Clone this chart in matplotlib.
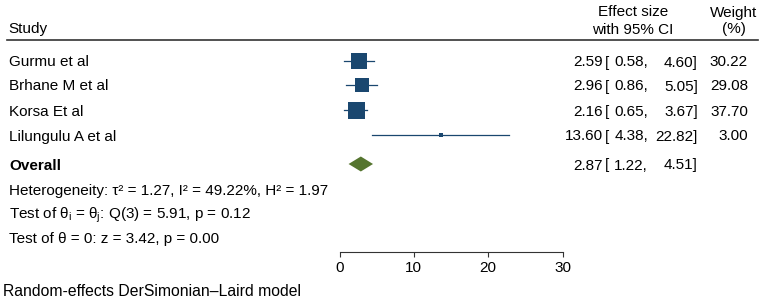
import matplotlib
matplotlib.use("Agg")
import matplotlib.pyplot as plt
from matplotlib.lines import Line2D
import numpy as np

plt.rcParams['font.family'] = ['Liberation Sans', 'DejaVu Sans']
plt.rcParams['mathtext.fontset'] = 'custom'
plt.rcParams['mathtext.rm'] = 'Liberation Sans'
plt.rcParams['mathtext.it'] = 'Liberation Sans'
plt.rcParams['mathtext.bf'] = 'Liberation Sans:bold'

studies = ["Gurmu et al", "Brhane M et al", "Korsa Et al", "Lilungulu A et al"]
effects = [2.59, 2.96, 2.16, 13.60]
lower = [0.58, 0.86, 0.65, 4.38]
upper = [4.60, 5.05, 3.67, 22.82]
weights = [30.22, 29.08, 37.70, 3.00]
overall = [2.87, 1.22, 4.51]
xticks = [0, 10, 20, 30]
het_text = "Heterogeneity: \u03c4\u00b2 = 1.27, I\u00b2 = 49.22%, H\u00b2 = 1.97"
test1_text = r"Test of $\theta_\mathrm{i}$ = $\theta_\mathrm{j}$: Q(3) = 5.91, p = 0.12"
test2_text = "Test of \u03b8 = 0: z = 3.42, p = 0.00"
footnote = "Random-effects DerSimonian\u2013Laird model"

W, H = 765, 299
fig = plt.figure(figsize=(W / 100, H / 100), dpi=100)
fig.patch.set_facecolor('white')

def fx(x):
    return x / W

def fy(y):
    return 1 - y / H

fs = 11
boff = 5.5  # baseline offset from visual row centre (px)

def txt(x, y, s, ha='left', size=fs, **kw):
    fig.text(fx(x), fy(y + boff), s, fontsize=size, va='baseline', ha=ha, **kw)

axis_y = 252
ax = fig.add_axes([fx(339.5), fy(axis_y), 223 / W, axis_y / H])
ax.set_xlim(0, 30)
ax.set_ylim(axis_y, 0)
ax.patch.set_alpha(0)
for s in ['top', 'left', 'right']:
    ax.spines[s].set_visible(False)
ax.spines['bottom'].set_linewidth(0.8)
ax.spines['bottom'].set_color('#333333')
ax.set_yticks([])
ax.set_xticks(xticks)
ax.tick_params(axis='x', direction='out', length=3.5, width=0.8, color='#333333',
               labelsize=fs, pad=3, labelcolor='black')

navy = '#1a476f'
green = '#55752f'
rows = [61, 85, 110, 135]
maxw = max(weights)
for i, (st, e, lo, hi, w) in enumerate(zip(studies, effects, lower, upper, weights)):
    y = rows[i]
    ax.plot([lo, hi], [y, y], color=navy, lw=0.9, clip_on=False, zorder=2)
    ms = 17 * 0.72 * np.sqrt(w / maxw)
    ax.plot([e], [y], marker='s', ms=ms, color=navy, mew=0, clip_on=False, zorder=3)
    txt(9, y, st)
    txt(603, y, f"{e:.2f}", ha='right')
    txt(605, y, "[")
    txt(648, y, f"{lo:.2f},", ha='right')
    txt(698, y, f"{hi:.2f}]", ha='right')
    txt(748, y, f"{w:.2f}", ha='right')

# overall diamond
oy = 164
oe, olo, ohi = overall
ax.fill([olo, oe, ohi, oe], [oy, oy - 7.5, oy, oy + 7.5], color=green, lw=0, clip_on=False, zorder=3)
txt(9, oy, "Overall", fontweight='bold')
txt(603, oy, f"{oe:.2f}", ha='right')
txt(605, oy, "[")
txt(648, oy, f"{olo:.2f},", ha='right')
txt(698, oy, f"{ohi:.2f}]", ha='right')

txt(9, 189, het_text)
txt(9, 213, test1_text)
txt(9, 238, test2_text)

# headers
txt(8, 28, "Study")
txt(633, 11, "Effect size", ha='center')
txt(633, 28, "with 95% CI", ha='center')
txt(734, 11, "Weight", ha='center')
txt(734, 28, "(%)", ha='center')
fig.add_artist(Line2D([fx(7), fx(758)], [fy(40), fy(40)], color='#333333', lw=1.2))

txt(3, 290, footnote, size=11.3)

fig.savefig("out.png", dpi=100)
